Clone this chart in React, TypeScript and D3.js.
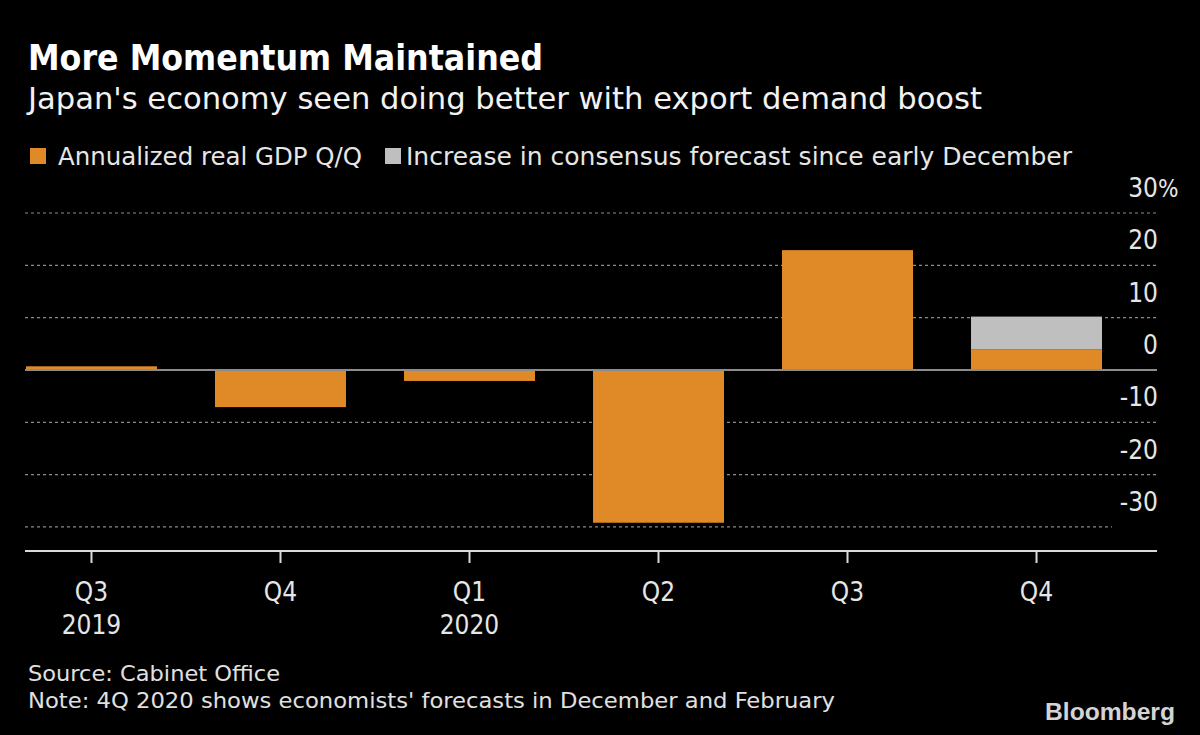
import React from "react";
import * as d3 from "d3";

const quarters = ["Q3", "Q4", "Q1", "Q2", "Q3", "Q4"];
const years = ["2019", "", "2020", "", "", ""];
const gdp = [0.7, -7.1, -2.1, -29.2, 22.9, 3.9];
const forecastIncrease = [0, 0, 0, 0, 0, 6.3];
const yTicks = [30, 20, 10, 0, -10, -20, -30];
const yTickLabels = ["30", "20", "10", "0", "-10", "-20", "-30"];

const W = 1200;
const H = 735;
const ORANGE = "#DF8A27";
const GRAY = "#BFBFBF";
const FONT = "'DejaVu Sans Condensed', 'Liberation Sans Narrow', 'Open Sans', sans-serif";

export default function App() {
  const x = d3
    .scaleBand<number>()
    .domain(d3.range(quarters.length))
    .range([26, 1102])
    .paddingInner(0.307)
    .paddingOuter(0);
  const y = d3.scaleLinear().domain([-34.6, 30]).range([551, 213]);
  const axisLeft = 25;
  const axisRight = 1157;

  return (
    <div style={{ position: "absolute", left: 0, top: 0 }}>
      <svg width={W} height={H} style={{ display: "block", background: "#000" }} fontFamily={FONT}>
        <rect x={0} y={0} width={W} height={H} fill="#000" />
        <text x={28} y={70} fill="#fff" fontSize={35} fontWeight="bold" textLength={515} lengthAdjust="spacingAndGlyphs">
          More Momentum Maintained
        </text>
        <text x={28} y={109} fill="#f2f2f2" fontSize={30} textLength={954} lengthAdjust="spacingAndGlyphs">
          Japan's economy seen doing better with export demand boost
        </text>

        {/* legend */}
        <rect x={30} y={148} width={16} height={16} fill={ORANGE} />
        <text x={58} y={165} fill="#e6e6e6" fontSize={24} textLength={304} lengthAdjust="spacingAndGlyphs">
          Annualized real GDP Q/Q
        </text>
        <rect x={385} y={148} width={16} height={16} fill={GRAY} />
        <text x={406} y={165} fill="#e6e6e6" fontSize={24} textLength={666} lengthAdjust="spacingAndGlyphs">
          Increase in consensus forecast since early December
        </text>

        {/* gridlines */}
        {yTicks.map((t, i) =>
          t === 0 ? null : (
            <line
              key={"g" + i}
              x1={axisLeft}
              x2={i === yTicks.length - 1 ? 1112 : axisRight}
              y1={y(t)}
              y2={y(t)}
              stroke="#8a8a8a"
              strokeWidth={1.2}
              strokeDasharray="3,3"
            />
          )
        )}
        {yTicks.map((t, i) => (
          <g key={"l" + i}>
            <text x={1158} y={y(t) - 16} textAnchor="end" fill="#e6e6e6" fontSize={26}>
              {yTickLabels[i]}
            </text>
            {i === 0 ? (
              <text x={1158} y={y(t) - 16} fill="#e6e6e6" fontSize={24}>
                %
              </text>
            ) : null}
          </g>
        ))}

        {/* bars */}
        {gdp.map((v, i) => (
          <rect
            key={"b" + i}
            x={x(i)}
            y={y(Math.max(0, v))}
            width={x.bandwidth()}
            height={Math.abs(y(v) - y(0))}
            fill={ORANGE}
          />
        ))}
        {forecastIncrease.map((v, i) =>
          v > 0 ? (
            <rect
              key={"f" + i}
              x={x(i)}
              y={y(gdp[i] + v)}
              width={x.bandwidth()}
              height={y(gdp[i]) - y(gdp[i] + v)}
              fill={GRAY}
            />
          ) : null
        )}

        {/* zero line */}
        <line x1={axisLeft} x2={axisRight} y1={y(0)} y2={y(0)} stroke="#8c8c8c" strokeWidth={2} />

        {/* x axis */}
        <line x1={axisLeft} x2={axisRight} y1={551} y2={551} stroke="#d9d9d9" strokeWidth={2} />
        {quarters.map((q, i) => {
          const cx = (x(i) as number) + x.bandwidth() / 2;
          return (
            <g key={"x" + i}>
              <line x1={cx} x2={cx} y1={551} y2={563} stroke="#d9d9d9" strokeWidth={2} />
              <text x={cx} y={601} textAnchor="middle" fill="#e6e6e6" fontSize={26}>
                {q}
              </text>
              {years[i] ? (
                <text x={cx} y={634} textAnchor="middle" fill="#e6e6e6" fontSize={26}>
                  {years[i]}
                </text>
              ) : null}
            </g>
          );
        })}

        {/* footer */}
        <text x={28} y={681} fill="#e0e0e0" fontSize={22} textLength={252} lengthAdjust="spacingAndGlyphs">
          Source: Cabinet Office
        </text>
        <text x={28} y={708} fill="#e0e0e0" fontSize={22} textLength={807} lengthAdjust="spacingAndGlyphs">
          Note: 4Q 2020 shows economists' forecasts in December and February
        </text>
        <text x={1045} y={720} fill="#d4d4d4" fontSize={24} fontWeight="bold" fontFamily="'Liberation Sans Narrow', 'Liberation Sans', Arial, sans-serif" textLength={130} lengthAdjust="spacingAndGlyphs">
          Bloomberg
        </text>
      </svg>
    </div>
  );
}
